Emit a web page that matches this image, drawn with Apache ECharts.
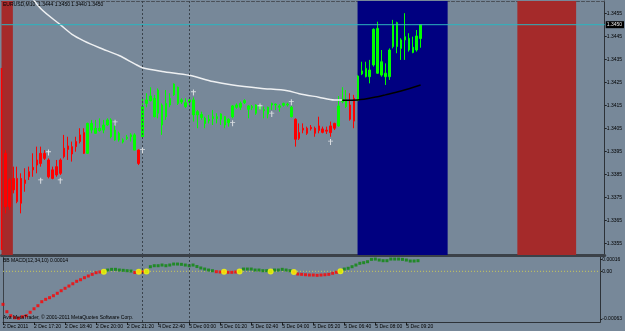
<!DOCTYPE html>
<html><head><meta charset="utf-8">
<script src="https://cdn.jsdelivr.net/npm/echarts@6/dist/echarts.min.js"></script>
<style>html,body{margin:0;padding:0;background:#778899}#c{width:625px;height:331px}</style>
</head><body><div id="c"></div>
<script>
// ---- data ----
const timeLabels = ['2 Dec 2011','2 Dec 17:20','2 Dec 18:40','2 Dec 20:00','2 Dec 21:20','4 Dec 22:40','5 Dec 00:00','5 Dec 01:20','5 Dec 02:40','5 Dec 04:00','5 Dec 05:20','5 Dec 06:40','5 Dec 08:00','5 Dec 09:20'];
const labelBars = [0,8,16,24,32,40,48,56,64,72,80,88,96,104];
const priceTicks = [1.3355,1.3365,1.3375,1.3385,1.3395,1.3405,1.3415,1.3425,1.3435,1.3445,1.3455];
const bidPrice = 1.3450;
const headerText = 'EURUSD,M10  1.3444 1.3450 1.3440 1.3450';
const macdTitle = 'BB MACD(12,34,10) 0.00014';
const copyright = 'Ava MetaTrader, \u00a9 2001-2011 MetaQuotes Software Corp.';

const candleOpen = [1.34312,1.33941,1.33825,1.33832,1.33832,1.33832,1.33825,1.33861,1.33880,1.33912,
1.33941,1.33941,1.33912,1.33869,1.33883,1.33912,1.33963,1.33973,1.33970,1.33992,
1.34021,1.34031,1.33941,1.34042,1.34028,1.34040,1.34042,1.34064,1.34013,1.33999,
1.33999,1.33990,1.34005,1.34013,1.33955,1.33955,1.34013,1.34158,1.34170,1.34100,
1.34115,1.34064,1.34100,1.34151,1.34195,1.34158,1.34164,1.34144,1.34164,1.34108,
1.34108,1.34097,1.34071,1.34083,1.34092,1.34092,1.34089,1.34064,1.34074,1.34100,
1.34141,1.34141,1.34161,1.34132,1.34139,1.34115,1.34132,1.34126,1.34112,1.34151,
1.34151,1.34141,1.34150,1.34151,1.34100,1.34089,1.34031,1.34050,1.34050,1.34054,
1.34050,1.34060,1.34047,1.34042,1.34060,1.34071,1.34060,1.34166,1.34144,1.34151,
1.34180,1.34170,1.34286,1.34274,1.34274,1.34325,1.34289,1.34281,1.34274,1.34274,
1.34405,1.34405,1.34397,1.34434,1.34390,1.34379,1.34390,1.34440];
const candleClose = [1.33521,1.33709,1.33709,1.33782,1.33731,1.33724,1.33810,1.33839,1.33869,1.33890,
1.33897,1.33919,1.33839,1.33832,1.33847,1.33854,1.33926,1.33958,1.33938,1.33970,
1.33992,1.33941,1.34071,1.34071,1.34050,1.34050,1.34064,1.34086,1.34086,1.34042,
1.34028,1.33999,1.34011,1.34021,1.34021,1.33897,1.34144,1.34173,1.34190,1.34180,
1.34216,1.34151,1.34158,1.34180,1.34242,1.34228,1.34173,1.34161,1.34173,1.34173,
1.34122,1.34110,1.34093,1.34089,1.34100,1.34100,1.34112,1.34100,1.34089,1.34147,
1.34151,1.34158,1.34170,1.34147,1.34144,1.34151,1.34144,1.34131,1.34141,1.34158,
1.34155,1.34147,1.34158,1.34155,1.34141,1.34002,1.34006,1.34042,1.34028,1.34048,
1.34028,1.34040,1.34032,1.34037,1.34031,1.34050,1.34147,1.34176,1.34173,1.34089,
1.34081,1.34277,1.34299,1.34310,1.34303,1.34480,1.34484,1.34339,1.34289,1.34390,
1.34499,1.34509,1.34434,1.34448,1.34441,1.34402,1.34451,1.34500];
const candleLow = [1.33521,1.33680,1.33695,1.33767,1.33724,1.33680,1.33774,1.33825,1.33839,1.33854,
1.33883,1.33912,1.33832,1.33828,1.33839,1.33847,1.33919,1.33912,1.33905,1.33948,
1.33984,1.33938,1.33938,1.34028,1.34025,1.34035,1.34028,1.34060,1.34006,1.33996,
1.33992,1.33984,1.33999,1.33992,1.33955,1.33890,1.34013,1.34141,1.34166,1.34097,
1.34093,1.34021,1.34086,1.34141,1.34190,1.34151,1.34155,1.34137,1.34144,1.34079,
1.34050,1.34086,1.34050,1.34071,1.34064,1.34071,1.34064,1.34050,1.34057,1.34093,
1.34135,1.34129,1.34155,1.34093,1.34129,1.34108,1.34129,1.34093,1.34093,1.34129,
1.34129,1.34122,1.34144,1.34144,1.34097,1.33970,1.33999,1.34028,1.34021,1.34040,
1.34013,1.34028,1.34028,1.34025,1.34013,1.34042,1.34057,1.34158,1.34137,1.34083,
1.34050,1.34170,1.34281,1.34271,1.34245,1.34318,1.34286,1.34274,1.34238,1.34260,
1.34397,1.34376,1.34347,1.34347,1.34383,1.34376,1.34383,1.34400];
const candleHigh = [1.34312,1.33955,1.33832,1.33883,1.33883,1.33854,1.33876,1.33883,1.33941,1.33970,
1.33970,1.33955,1.33919,1.33883,1.33912,1.33919,1.34021,1.34013,1.33992,1.34013,
1.34050,1.34050,1.34074,1.34086,1.34086,1.34093,1.34086,1.34093,1.34093,1.34064,
1.34035,1.34006,1.34021,1.34028,1.34028,1.33958,1.34180,1.34202,1.34228,1.34195,
1.34223,1.34158,1.34216,1.34202,1.34245,1.34231,1.34180,1.34180,1.34184,1.34184,
1.34129,1.34122,1.34100,1.34108,1.34129,1.34115,1.34115,1.34103,1.34093,1.34151,
1.34158,1.34166,1.34176,1.34151,1.34151,1.34154,1.34151,1.34144,1.34144,1.34161,
1.34158,1.34154,1.34161,1.34161,1.34147,1.34093,1.34071,1.34071,1.34057,1.34064,
1.34057,1.34100,1.34057,1.34057,1.34079,1.34074,1.34190,1.34228,1.34216,1.34202,
1.34195,1.34281,1.34339,1.34339,1.34347,1.34484,1.34513,1.34390,1.34332,1.34397,
1.34521,1.34513,1.34441,1.34550,1.34463,1.34448,1.34477,1.34500];

const maWhiteBars = [6,10,15,18,21,25,30,34,36,41,48,54,59,66,73,76,81,85,87];
const maWhitePrices = [1.34660,1.34570,1.34500,1.34458,1.34430,1.34400,1.34366,1.34330,1.34313,1.34297,1.34280,1.34253,1.34238,1.34224,1.34213,1.34200,1.34185,1.34173,1.34173];
const maBlackBars = [87,91,96,98,102,107];
const maBlackPrices = [1.34172,1.34173,1.34187,1.34195,1.34212,1.34238];

const arrowBars = [10,12,15,29,36,49,59,66,69,74,84];
const arrowPrices = [1.33822,1.33944,1.33822,1.34074,1.33953,1.34205,1.34072,1.34144,1.34112,1.34163,1.33990];

const bandStartBars = [0, 90.9, 131.7];
const bandEndBars = [2.9, 113.9, 146.7];
const separatorBars = [36, 48];

const macdVals = [
-0.000436,-0.000533,-0.000586,-0.000612,-0.000620,-0.000599,-0.000586,-0.000541,-0.000494,-0.000454,
-0.000401,-0.000370,-0.000348,-0.000322,-0.000290,-0.000256,-0.000224,-0.000194,-0.000164,-0.000132,
-0.000111,-0.000084,-0.000062,-0.000040,-0.000018,-0.000009,-0.000005,0.000017,0.000026,0.000026,
0.000017,0.000013,0.000008,0.000004,-0.000016,-0.000005,-0.000009,-0.000003,0.000061,0.000074,
0.000074,0.000083,0.000074,0.000083,0.000096,0.000096,0.000092,0.000083,0.000074,0.000083,
0.000063,0.000044,0.000030,0.000017,0.000008,-0.000005,-0.000009,-0.000005,-0.000013,-0.000013,
-0.000009,-0.000003,0.000030,0.000030,0.000030,0.000017,0.000017,0.000008,0.000008,-0.000003,
0.000017,0.000017,0.000026,0.000017,0.000008,-0.000009,-0.000036,-0.000040,-0.000045,-0.000049,
-0.000049,-0.000053,-0.000049,-0.000045,-0.000040,-0.000026,-0.000013,0.000000,0.000030,0.000040,
0.000061,0.000083,0.000106,0.000114,0.000127,0.000158,0.000162,0.000149,0.000140,0.000140,
0.000162,0.000162,0.000162,0.000158,0.000149,0.000136,0.000136,0.000140];
const macdState = [
-1,-1,-1,-1,-1,-1,-1,-1,-1,-1,-1,-1,-1,-1,-1,-1,-1,-1,-1,-1,-1,-1,-1,-1,-1,-1,
1,1,1,1,1,1,1,1,
-1,-1,-1,
1,1,1,1,1,1,1,1,1,1,1,1,1,1,1,1,1,1,
-1,-1,-1,-1,-1,-1,
1,1,1,1,1,1,1,1,1,1,1,1,1,1,
-1,-1,-1,-1,-1,-1,-1,-1,-1,-1,-1,-1,
1,1,1,1,1,1,1,1,1,1,1,1,1,1,1,1,1,1,1,1,1];
const crossBars = [26,35,37,57,61,69,75,87];
const macdAxisValues = [-0.00063, 0, 0.00016];
const macdAxisText = ['-0.00063', '0.00', '0.00016'];

// ---- chart ----
const FONT = 'Liberation Sans';
const FS = 5;
const BG = '#778899';
const bandColors = ['#a52a2a', '#000080', '#a52a2a'];
const xMin = 0, xMax = 154;
const yMin = 1.33499, yMax = 1.34603;
const mMin = -0.000669, mMax = 0.000189;

const candles = candleOpen.map((o, i) => [i, o, candleClose[i], candleLow[i], candleHigh[i]]).slice(1);
const firstBarLine = [[0, candleHigh[0]], [0, candleLow[0]]];
const maWhite = maWhiteBars.map((b, i) => [b, maWhitePrices[i]]);
const maBlack = maBlackBars.map((b, i) => [b, maBlackPrices[i]]);
const arrows = arrowBars.map((b, i) => [b, arrowPrices[i]]);
const bidLine = [[xMin, bidPrice], [xMax, bidPrice]];
const macdRed = macdVals.map((v, i) => macdState[i] < 0 ? [i, v] : [i, '-']);
const macdGreen = macdVals.map((v, i) => macdState[i] > 0 ? [i, v] : [i, '-']);
const macdCross = crossBars.map(b => [b, macdVals[b]]);
const zeroLine = [[xMin, 0], [xMax, 0]];

const sepLine = {
  silent: true, symbol: 'none', label: {show: false},
  lineStyle: {color: '#3a434c', type: [2, 2], width: 1},
  data: separatorBars.map(b => ({xAxis: b}))
};

function xAx(grid, pos, extra) {
  return Object.assign({
    gridIndex: grid, type: 'value', min: xMin, max: xMax, position: pos,
    axisLine: {show: true, onZero: false, lineStyle: {color: '#2d3238'}},
    axisTick: {show: false}, axisLabel: {show: false}, splitLine: {show: false}
  }, extra || {});
}

const option = {
  animation: false,
  backgroundColor: BG,
  grid: [
    {left: 1.5, right: 18.5, top: 1, height: 254},
    {left: 1.5, right: 18.5, top: 257, height: 65}
  ],
  xAxis: [
    xAx(0, 'bottom', {axisLine: {show: true, onZero: false, lineStyle: {color: '#3b4148', width: 3}}}),
    xAx(1, 'bottom', {
      axisTick: {show: true, customValues: labelBars, length: 3, lineStyle: {color: '#1e2226'}},
      axisLabel: {show: true, customValues: labelBars, align: 'left', margin: 2,
        formatter: v => timeLabels[labelBars.indexOf(Math.round(v))] || '',
        fontSize: FS, color: '#000', fontFamily: FONT}
    }),
    xAx(0, 'top', {axisLine: {show: true, onZero: false, lineStyle: {color: '#4a5058', type: [3, 2]}}})
  ],
  yAxis: [
    {gridIndex: 0, type: 'value', min: yMin, max: yMax, position: 'right',
      axisLine: {show: true, onZero: false, lineStyle: {color: '#2d3238'}},
      axisTick: {show: true, customValues: priceTicks, length: 2, lineStyle: {color: '#1e2226'}},
      axisLabel: {customValues: priceTicks, formatter: v => v.toFixed(4), fontSize: FS, color: '#000', margin: 2, fontFamily: FONT},
      splitLine: {show: false}},
    {gridIndex: 1, type: 'value', min: mMin, max: mMax, position: 'right',
      axisLine: {show: true, onZero: false, lineStyle: {color: '#2d3238'}},
      axisTick: {show: true, customValues: macdAxisValues, length: 2, lineStyle: {color: '#1e2226'}},
      axisLabel: {customValues: macdAxisValues, fontSize: FS, color: '#000', margin: 2, fontFamily: FONT,
        formatter: v => {
          let best = 0;
          macdAxisValues.forEach((m, i) => { if (Math.abs(m - v) < Math.abs(macdAxisValues[best] - v)) best = i; });
          return macdAxisText[best];
        }},
      splitLine: {show: false}},
    {gridIndex: 1, type: 'value', min: mMin, max: mMax, position: 'left',
      axisLine: {show: true, onZero: false, lineStyle: {color: '#3b4148'}},
      axisTick: {show: false}, axisLabel: {show: false}, splitLine: {show: false}}
  ],
  graphic: [
    {type: 'text', left: 3, top: 2, z: 100, style: {text: headerText, fontSize: FS, fontFamily: FONT, fill: '#000'}},
    {type: 'text', left: 3, top: 258, z: 100, style: {text: macdTitle, fontSize: FS, fontFamily: FONT, fill: '#000'}},
    {type: 'text', left: 3, top: 315, z: 100, style: {text: copyright, fontSize: FS, fontFamily: FONT, fill: '#000'}}
  ],
  series: [
    {type: 'line', xAxisIndex: 0, yAxisIndex: 0, data: [], z: 1, silent: true,
      markArea: {silent: true, data: bandStartBars.map((s, i) => [
        {xAxis: s, itemStyle: {color: bandColors[i], opacity: 1}}, {xAxis: bandEndBars[i]}])},
      markLine: sepLine},
    {type: 'line', xAxisIndex: 0, yAxisIndex: 0, z: 6, data: firstBarLine, showSymbol: false, clip: false,
      lineStyle: {color: '#ff0000', width: 1.5}},
    {type: 'candlestick', xAxisIndex: 0, yAxisIndex: 0, z: 3, data: candles,
      encode: {x: 0, y: [1, 2, 3, 4]}, barWidth: 2,
      itemStyle: {color: '#00ff00', color0: '#ff0000', borderColor: '#00ff00', borderColor0: '#ff0000', borderWidth: 1}},
    {type: 'line', xAxisIndex: 0, yAxisIndex: 0, z: 4, data: maWhite, showSymbol: false, smooth: 0.3,
      lineStyle: {color: '#eef0f2', width: 1.5}},
    {type: 'line', xAxisIndex: 0, yAxisIndex: 0, z: 4, data: maBlack, showSymbol: false, smooth: 0.3,
      lineStyle: {color: '#000', width: 1.5}},
    {type: 'line', xAxisIndex: 0, yAxisIndex: 0, z: 4, data: bidLine, showSymbol: false,
      lineStyle: {color: '#2cb4bf', width: 1},
      endLabel: {show: true, distance: 1, formatter: () => bidPrice.toFixed(4),
        backgroundColor: '#000', color: '#e8e8e8', fontSize: FS, fontFamily: FONT, padding: [1, 2, 1, 1]}},
    {type: 'scatter', xAxisIndex: 0, yAxisIndex: 0, z: 5, data: arrows,
      symbol: 'path://M2,0 L3,0 L3,2 L5,2 L5,3 L3,3 L3,7 L2,7 L2,3 L0,3 L0,2 L2,2 Z',
      symbolSize: [5, 6], itemStyle: {color: '#f4f4f4'}},
    {type: 'line', xAxisIndex: 1, yAxisIndex: 1, z: 2, data: zeroLine, showSymbol: false,
      lineStyle: {color: '#c8c85a', type: [1, 2], width: 1}, markLine: sepLine},
    {type: 'scatter', xAxisIndex: 1, yAxisIndex: 1, z: 3, data: macdRed, symbol: 'rect', symbolSize: 3,
      itemStyle: {color: '#ff0000'}},
    {type: 'scatter', xAxisIndex: 1, yAxisIndex: 1, z: 3, data: macdGreen, symbol: 'rect', symbolSize: 3,
      itemStyle: {color: '#0b8a0b'}},
    {type: 'scatter', xAxisIndex: 1, yAxisIndex: 1, z: 4, data: macdCross, symbol: 'circle', symbolSize: 6,
      itemStyle: {color: '#ffff00'}}
  ]
};
const chart = echarts.init(document.getElementById('c'));
chart.setOption(option);
</script>
</body></html>
